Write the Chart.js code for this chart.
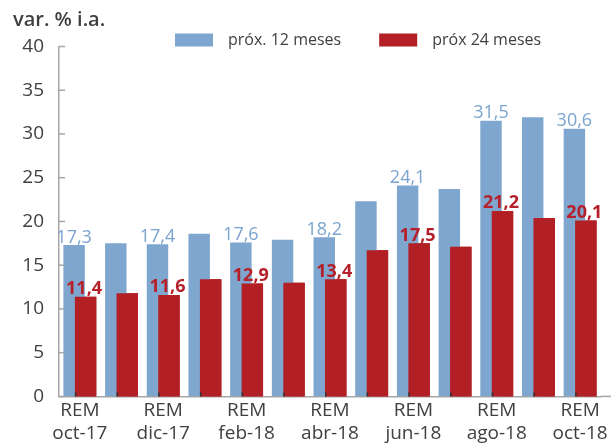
<!DOCTYPE html>
<html>
<head>
<meta charset="utf-8">
<script src="https://cdn.jsdelivr.net/npm/chart.js@4.4.1/dist/chart.umd.min.js"></script>
<style>
  html, body { margin: 0; padding: 0; background: #fff; }
  #wrap { width: 611px; height: 448px; }
</style>
</head>
<body>
<div id="wrap"><canvas id="c"></canvas></div>
<script>
// --- datos ---
const categories = ['oct-17','nov-17','dic-17','ene-18','feb-18','mar-18','abr-18','may-18','jun-18','jul-18','ago-18','sep-18','oct-18'];
const next12 = [17.3, 17.5, 17.4, 18.6, 17.6, 17.9, 18.2, 22.3, 24.1, 23.7, 31.5, 31.9, 30.6];
const next24 = [11.4, 11.8, 11.6, 13.4, 12.9, 13.0, 13.4, 16.7, 17.5, 17.1, 21.2, 20.4, 20.1];
const seriesNames = ['próx. 12 meses', 'próx 24 meses'];
const labelledIdx = [0, 2, 4, 6, 8, 10, 12];
const yMin = 0, yMax = 40, yStep = 5;

const BLUE = '#7EA6CF', RED = '#B21F24';
const BLUE_TXT = '#7BA3CF', RED_TXT = '#B5202A';
const AXIS = '#A6A6A6', TXT = '#404040';
const FONT = "'Open Sans', sans-serif";

const fmt = v => v.toFixed(1).replace('.', ',');

// rojo encima del azul, marcas, etiquetas y leyenda
const overlay = {
  id: 'overlay',
  afterDatasetsDraw(chart) {
    const { ctx, chartArea: a, scales: { y } } = chart;
    chart.getDatasetMeta(1).controller.draw();
    ctx.save();

    // marcas del eje x (hacia arriba)
    ctx.strokeStyle = '#333'; ctx.lineWidth = 1.5;
    chart.getDatasetMeta(0).data.forEach(b => {
      ctx.beginPath(); ctx.moveTo(b.x + 1.5, a.bottom); ctx.lineTo(b.x + 1.5, a.bottom - 4); ctx.stroke();
    });

    // marcas del eje y hacia adentro
    ctx.strokeStyle = AXIS;
    y.ticks.forEach(t => {
      const py = y.getPixelForValue(t.value);
      ctx.beginPath(); ctx.moveTo(a.left, py); ctx.lineTo(a.left + 6, py); ctx.stroke();
    });
    // eje x llega hasta el borde
    ctx.beginPath(); ctx.moveTo(a.right, a.bottom); ctx.lineTo(chart.width, a.bottom); ctx.stroke();

    // valores
    ctx.textAlign = 'center'; ctx.textBaseline = 'alphabetic';
    const m0 = chart.getDatasetMeta(0).data, m1 = chart.getDatasetMeta(1).data;
    labelledIdx.forEach(i => {
      ctx.font = '18px ' + FONT; ctx.fillStyle = BLUE_TXT;
      ctx.fillText(fmt(next12[i]), m0[i].x, m0[i].y - 2.5);
      ctx.font = 'bold 18px ' + FONT; ctx.fillStyle = RED_TXT;
      ctx.fillText(fmt(next24[i]), m1[i].x - 1.5, m1[i].y - 2.5);
    });
    ctx.restore();
  },
  afterDraw(chart) {
    const { ctx } = chart;
    ctx.save();
    ctx.font = '16px ' + FONT; ctx.textBaseline = 'middle'; ctx.textAlign = 'left';
    let x = 175;
    [BLUE, RED].forEach((c, i) => {
      ctx.fillStyle = c; ctx.fillRect(x, 33.5, 38, 13);
      x += 38 + 15;
      ctx.fillStyle = TXT; ctx.fillText(seriesNames[i], x, 40);
      x += ctx.measureText(seriesNames[i]).width + 38;
    });
    ctx.restore();
  }
};

new Chart(document.getElementById('c'), {
  type: 'bar',
  data: {
    labels: categories,
    datasets: [
      { label: seriesNames[0], data: next12, backgroundColor: BLUE },
      { label: seriesNames[1], data: next24, backgroundColor: RED }
    ]
  },
  options: {
    responsive: true, maintainAspectRatio: false, animation: false,
    categoryPercentage: 0.55, barPercentage: 1.87,
    layout: { padding: { left: 13, right: 8, top: 0, bottom: 0 } },
    plugins: {
      legend: { display: false },
      tooltip: { enabled: false },
      title: {
        display: true, text: 'var. % i.a.', align: 'start', color: TXT,
        font: { family: FONT, size: 20, weight: '600' }, padding: { top: 8, bottom: 14.5 }
      }
    },
    scales: {
      x: {
        grid: { display: false, drawTicks: false },
        border: { display: true, color: AXIS, width: 1.5 },
        ticks: {
          autoSkip: false, maxRotation: 0, padding: 3, color: TXT,
          font: { family: FONT, size: 19 }, 
          callback: (v, i) => labelledIdx.includes(i) ? ['REM', categories[i]] : ''
        }
      },
      y: {
        min: yMin, max: yMax,
        grid: { display: false, drawTicks: false },
        border: { display: true, color: AXIS, width: 1.5 },
        ticks: { stepSize: yStep, padding: 15, color: TXT, font: { family: FONT, size: 19 } },
        afterFit: s => { s.width = 46; }
      }
    }
  },
  plugins: [overlay]
});
</script>
</body>
</html>
